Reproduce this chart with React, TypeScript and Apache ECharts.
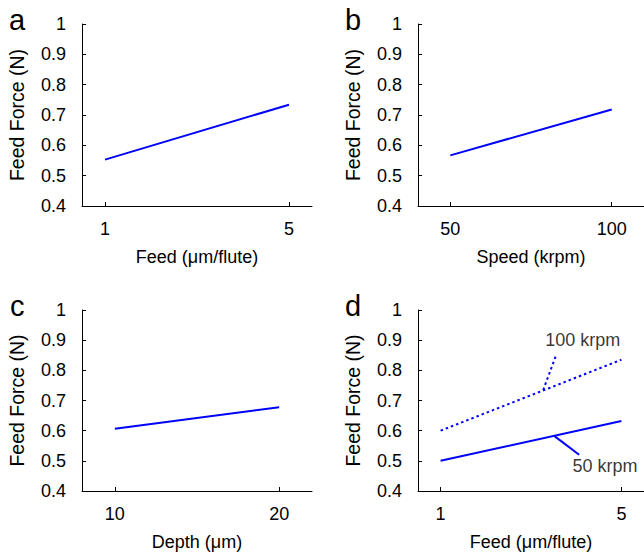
import React, { useEffect, useRef } from "react";
import * as echarts from "echarts";

const FONT = "Liberation Sans, Arial, sans-serif";

const yTicks = [0.4, 1];
const panelLetters = ["a", "b", "c", "d"];
const xNames = ["Feed (\u03bcm/flute)", "Speed (krpm)", "Depth (\u03bcm)", "Feed (\u03bcm/flute)"];
const yName = "Feed Force (N)";

const xRanges = [
  [0.5, 5.5],
  [40, 110],
  [8, 22],
  [0.5, 5.5],
];
const xTickValues = [
  [1, 5],
  [50, 100],
  [10, 20],
  [1, 5],
];

const lineA = [[1, 0.553], [5, 0.734]];
const lineB = [[50, 0.567], [100, 0.718]];
const lineC = [[10, 0.606], [20, 0.678]];
const lineD100 = [[1, 0.600], [5, 0.835]];
const lineD50 = [[1, 0.500], [5, 0.632]];
const pointer100 = [[3.27, 0.735], [3.56, 0.852]];
const pointer50 = [[3.52, 0.582], [4.065, 0.52]];
const labelNames = ["100 krpm", "50 krpm"];
const labelPoints = [[3.317, 0.902], [3.92, 0.482]];

const grids = [
  { left: 82, top: 24, width: 230, height: 182 },
  { left: 418, top: 24, width: 229, height: 182 },
  { left: 82, top: 310, width: 230, height: 181 },
  { left: 418, top: 310, width: 229, height: 181 },
];
const letterPos = [
  [9, 20],
  [345, 20],
  [10, 306],
  [345, 306],
];

const BLUE = "#0000ff";

export default function App() {
  const ref = useRef<HTMLDivElement>(null);
  useEffect(() => {
    if (!ref.current) return;
    const chart = echarts.init(ref.current, null, { renderer: "svg" });
    const xAxis = grids.map((_, i) => ({
      type: "value",
      gridIndex: i,
      min: xRanges[i][0],
      max: xRanges[i][1],
      name: xNames[i],
      nameLocation: "middle",
      nameGap: 42,
      nameTextStyle: { fontFamily: FONT, fontSize: 18, color: "#000" },
      axisLine: { show: true, lineStyle: { color: "#000", width: 1 } },
      axisTick: { show: true, inside: true, length: 4, customValues: xTickValues[i], lineStyle: { color: "#000" } },
      axisLabel: { show: true, customValues: xTickValues[i], margin: 14, fontFamily: FONT, fontSize: 18, color: "#000" },
      splitLine: { show: false },
    }));
    const yAxis = grids.map((_, i) => ({
      type: "value",
      gridIndex: i,
      min: yTicks[0],
      max: yTicks[1],
      interval: 0.1,
      name: yName,
      nameLocation: "middle",
      nameGap: 55,
      nameTextStyle: { fontFamily: FONT, fontSize: 19.5, color: "#000" },
      axisLine: { show: true, lineStyle: { color: "#000", width: 1 } },
      axisTick: { show: true, inside: true, length: 4, lineStyle: { color: "#000" } },
      axisLabel: { margin: 16, fontFamily: FONT, fontSize: 18, color: "#000", formatter: (v: number) => String(Math.round(v * 10) / 10) },
      splitLine: { show: false },
    }));
    const solid = (data: number[][], i: number, type: any = "solid") => ({
      type: "line",
      xAxisIndex: i,
      yAxisIndex: i,
      data,
      symbol: "none",
      silent: true,
      lineStyle: { color: BLUE, width: 2, type },
    });
    const option: any = {
      animation: false,
      grid: grids,
      xAxis,
      yAxis,
      series: [
        solid(lineA, 0),
        solid(lineB, 1),
        solid(lineC, 2),
        solid(lineD100, 3, [2.5, 3]),
        solid(lineD50, 3),
        solid(pointer100, 3, [2.5, 3]),
        solid(pointer50, 3),
        {
          type: "scatter",
          xAxisIndex: 3,
          yAxisIndex: 3,
          symbolSize: 0,
          silent: true,
          data: labelPoints.map((p, k) => ({ value: p, name: labelNames[k] })),
          label: {
            show: true,
            position: "right",
            distance: 0,
            formatter: (p: any) => p.name,
            fontFamily: FONT,
            fontSize: 18,
            color: "#000",
          },
        },
      ],
      graphic: panelLetters.map((t, i) => ({
        type: "text",
        x: letterPos[i][0],
        y: letterPos[i][1],
        style: { text: t, fontFamily: FONT, fontSize: 29, fill: "#000", verticalAlign: "middle" },
      })),
    };
    chart.setOption(option);
    return () => chart.dispose();
  }, []);
  return (
    <div
      ref={ref}
      style={{ position: "fixed", left: 0, top: 0, width: 644, height: 557, background: "#fff" }}
    />
  );
}
